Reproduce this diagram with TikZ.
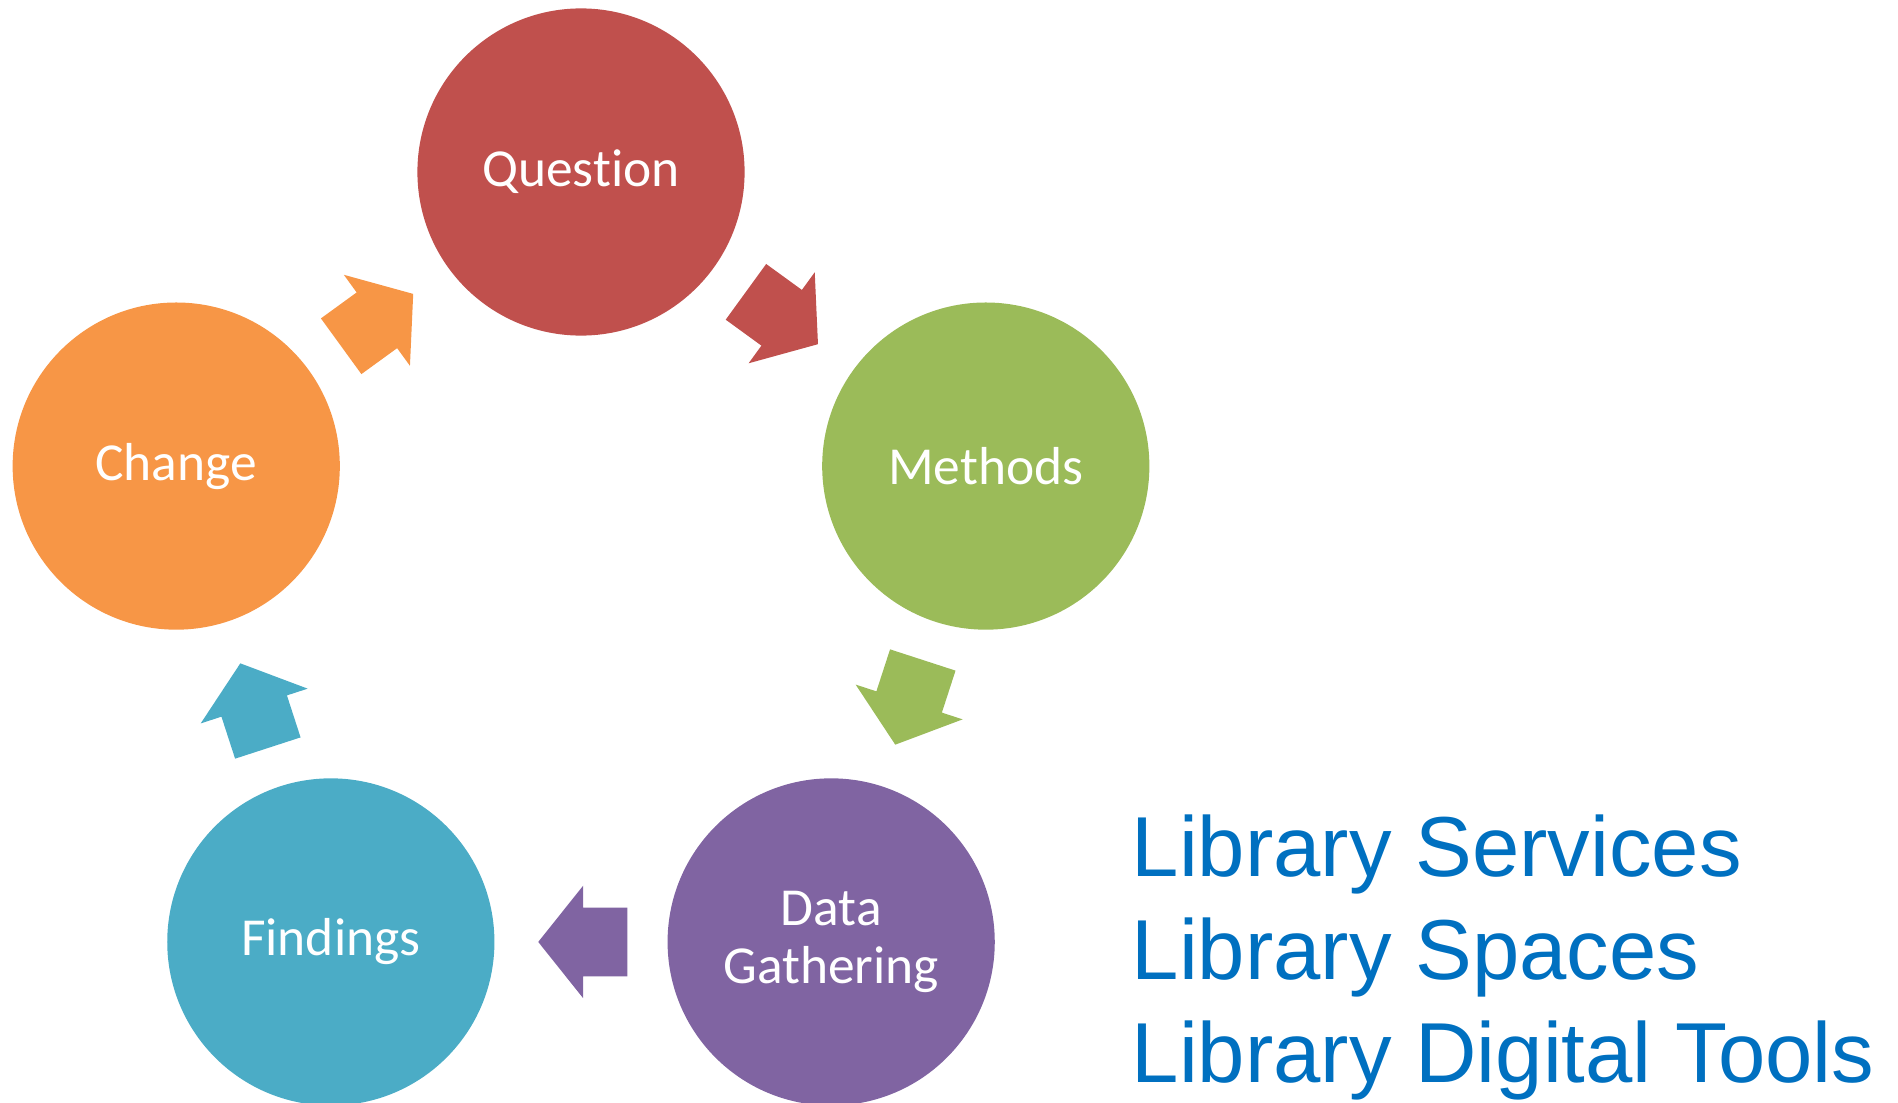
\documentclass[tikz,border=0pt]{standalone}
\usepackage{fontspec}
\setmainfont{Carlito}[Ligatures=NoCommon]
\newfontfamily\arialfont{Liberation Sans}
\usetikzlibrary{shapes.arrows,calc}
\definecolor{qred}{HTML}{C0504D}
\definecolor{mgreen}{HTML}{9BBB59}
\definecolor{dpurple}{HTML}{8064A2}
\definecolor{faqua}{HTML}{4BACC6}
\definecolor{corange}{HTML}{F79646}
\definecolor{libblue}{HTML}{0070C0}
\begin{document}
\begin{tikzpicture}[x=0.01cm,y=0.01cm,
    stage/.style={circle,minimum size=3.27cm,inner sep=0pt,text=white,align=center,
      font=\fontsize{15.2}{16.4}\selectfont},
    turn/.style={single arrow,minimum height=0.89cm,inner xsep=0pt,inner ysep=0.337cm,
      single arrow head extend=0.218cm,single arrow tip angle=102.8,rotate=#1,xshift=-0.155cm},
    lib/.style={anchor=base west,inner sep=0pt,text=libblue,font=\arialfont\fontsize{24.2}{29}\selectfont}]
      \useasboundingbox (0,0) rectangle (1898,1102);
      \clip (0,0) rectangle (1898,1102);
      % centre of the cycle
      \coordinate (o) at (581,504.4);
      \node[stage,fill=qred] (q) at ($(o)+(90:425.6)$) {Question};
      \node[stage,fill=mgreen] (m) at ($(o)+(18:425.6)$) {Methods};
      \node[stage,fill=dpurple] (d) at ($(o)+(-54:425.6)$) {Data\\Gathering};
      \node[stage,fill=faqua] (f) at ($(o)+(-126:425.6)$) {Findings};
      \node[stage,fill=corange] (c) at ($(o)+(162:425.6)$) {Change};
      % arrows between the stages
      \node[turn=-36,fill=qred] (qm) at ($(q)!0.5!(m)$) {};
      \node[turn=-108,fill=mgreen] (md) at ($(m)!0.5!(d)$) {};
      \node[turn=180,fill=dpurple] (df) at ($(d)!0.5!(f)$) {};
      \node[turn=108,fill=faqua] (fc) at ($(f)!0.5!(c)$) {};
      \node[turn=36,fill=corange] (cq) at ($(c)!0.5!(q)$) {};
      % list on the right
      \node[lib] (svc) at (1131,226) {Library Services};
      \node[lib] (spc) at ([yshift=-1.03cm]svc.base west) {Library Spaces};
      \node[lib] (dig) at ([yshift=-1.03cm]spc.base west) {Library Digital Tools};
    \end{tikzpicture}
\end{document}
